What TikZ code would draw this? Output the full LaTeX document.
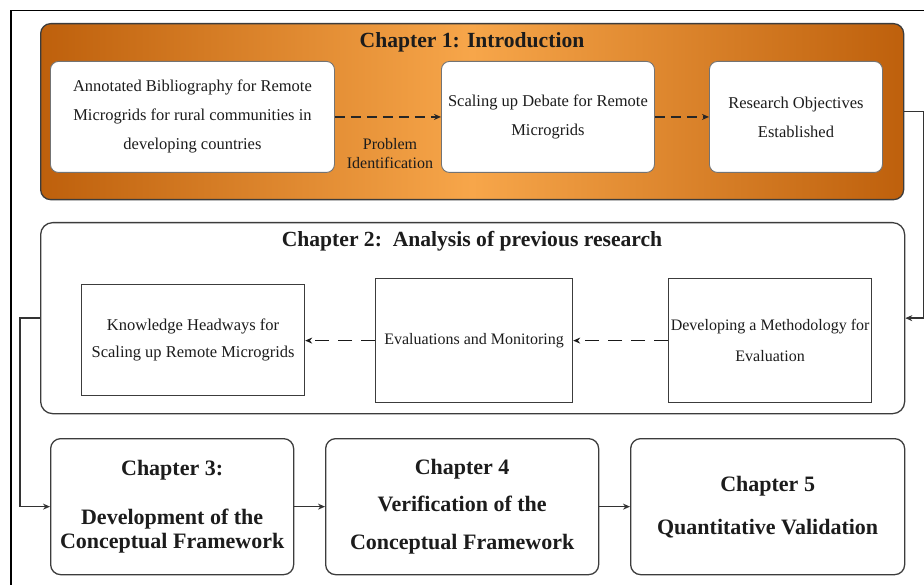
\documentclass[tikz,border=0pt]{standalone}
\usepackage{fontspec}
\setmainfont{Liberation Serif}
\usetikzlibrary{arrows.meta}
\definecolor{orDark}{RGB}{190,96,12}
\definecolor{orLight}{RGB}{247,166,74}
\definecolor{edgec}{RGB}{60,60,60}
\definecolor{txt}{RGB}{28,28,28}
\tikzset{
 chbox/.style={draw=edgec, line width=1.3pt, rounded corners=10pt, anchor=north west, inner sep=0pt, align=center, text=txt},
 whitebox/.style={draw=black!55, line width=0.9pt, fill=white, rounded corners=8pt, anchor=north west, inner sep=0pt, align=center, text=txt, font=\fontsize{16.5}{29}\selectfont},
 sqbox/.style={draw=edgec, line width=1.2pt, fill=white, anchor=north west, inner sep=0pt, align=center, text=txt},
 darr/.style={-{Stealth[length=7pt,width=6pt]}, dash pattern=on 10pt off 6pt, line width=1.9pt, draw=black!85},
 darrb/.style={-{Stealth[length=7pt,width=6pt]}, dash pattern=on 14pt off 9pt, line width=1.4pt, draw=black!90},
 sarr/.style={-{Stealth[length=7pt,width=6pt]}, line width=1.4pt, draw=black!80},
 titletext/.style={font=\bfseries\fontsize{21.6}{24}\selectfont, text=txt}
}
\begin{document}
\begin{tikzpicture}[x=1pt,y=-1pt]
\useasboundingbox[fill=white] (0,0) rectangle (924,585);
% outer frame
\draw[line width=1.1pt] (11,585) -- (11,10.5) -- (924,10.5);
% Chapter 1
\node[chbox, minimum width=863pt, minimum height=176pt, left color=orDark, right color=orDark, middle color=orLight] (ch1) at (40,23) {};
\node[titletext] (t1) at (472,42) {Chapter 1: Introduction};
\node[whitebox, minimum width=284pt, minimum height=111pt] (a) at (50,61) {Annotated Bibliography for Remote\\Microgrids for rural communities in\\developing countries};
\node[whitebox, minimum width=213pt, minimum height=111pt] (b) at (441,61) {Scaling up Debate for Remote\\Microgrids};
\node[whitebox, minimum width=173pt, minimum height=111pt] (c) at (709,61) {Research Objectives\\Established};
\node[font=\fontsize{16}{19}\selectfont, align=center, text=txt] (pi) at (390,154) {Problem\\Identification};
\draw[darr] (a) -- (b);
\draw[darr] (b) -- (c);
% Chapter 2
\node[chbox, fill=white, rounded corners=12pt, minimum width=864pt, minimum height=191pt] (ch2) at (40,222) {};
\node[titletext] (t2) at (472,241) {Chapter 2:\ \ Analysis of previous research};
\node[sqbox, minimum width=223pt, minimum height=111pt, font=\fontsize{16.5}{27}\selectfont] (k) at (81,284) {Knowledge Headways for\\Scaling up Remote Microgrids};
\node[sqbox, minimum width=197pt, minimum height=124pt, font=\fontsize{16}{30}\selectfont] (e) at (375,278) {Evaluations and Monitoring};
\node[sqbox, minimum width=203pt, minimum height=124pt, font=\fontsize{16}{31}\selectfont] (d) at (668,278) {Developing a Methodology for\\Evaluation};
\draw[darrb] (d) -- (e);
\draw[darrb] (e.west) -- (e.west -| k.east);
% connectors
\draw[sarr] (ch1.east) -- ++(19.5,0) |- (ch2.east);
% Chapters 3-5
\node[chbox, fill=white, minimum width=243pt, minimum height=136pt, font=\bfseries\fontsize{22}{24}\selectfont] (ch3) at (50,438) {Chapter 3:\\[25pt]Development of the\\Conceptual Framework};
\node[chbox, fill=white, minimum width=273pt, minimum height=136pt, font=\bfseries\fontsize{22}{37.5}\selectfont] (ch4) at (325,438) {Chapter 4\\Verification of the\\Conceptual Framework};
\node[chbox, fill=white, minimum width=274pt, minimum height=136pt, font=\bfseries\fontsize{22}{43}\selectfont] (ch5) at (630,438) {Chapter 5\\Quantitative Validation};
\draw[sarr] (ch2.west) -- ++(-20,0) |- (ch3.west);
\draw[sarr] (ch3) -- (ch4);
\draw[sarr] (ch4) -- (ch5);
\end{tikzpicture}
\end{document}
